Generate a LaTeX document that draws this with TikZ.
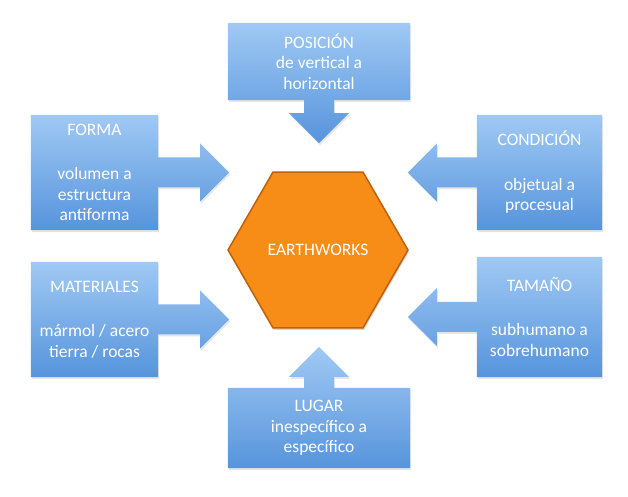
\documentclass[tikz,border=0pt]{standalone}
\usepackage{fontspec}
\setmainfont{Carlito}
\usetikzlibrary{calc,shadows,backgrounds,shapes.geometric}
\definecolor{boxtop}{RGB}{160,201,244}
\definecolor{boxbot}{RGB}{86,148,220}
\definecolor{hexfill}{RGB}{247,140,22}
\definecolor{hexedge}{RGB}{190,98,10}

\begin{document}
\begin{tikzpicture}[x=1pt,y=1pt]
\tikzset{boxtext/.style={text=white,align=center,inner sep=0pt,
font=\fontsize{17.5}{20.5}\selectfont},
callout/.style={top color=boxtop,bottom color=boxbot,
drop shadow={opacity=0.2,shadow xshift=1pt,shadow yshift=-2pt}},
hexa/.style={regular polygon,regular polygon sides=6,minimum size=180pt,
fill=hexfill,draw=hexedge,line width=1.5pt,
drop shadow={opacity=0.3,shadow xshift=1pt,shadow yshift=-2pt}},
}
\useasboundingbox (0,0) rectangle (628,497);

\node[hexa,boxtext] (earth) at (318,247) {EARTHWORKS};

\node[boxtext,minimum width=182pt,minimum height=77pt] (posicion) at (319,435.5)
{POSICIÓN\\de vertical a\\horizontal};
\node[boxtext,minimum width=182pt,minimum height=80pt] (lugar) at (319,69)
{LUGAR\\inespecífico a\\específico};
\node[boxtext,minimum width=127pt,minimum height=115pt] (forma) at (94.5,324.5)
{FORMA\\[24pt]volumen a\\estructura\\antiforma};
\node[boxtext,minimum width=127pt,minimum height=115pt] (materiales) at (94.5,177.5)
{MATERIALES\\[24pt]mármol / acero\\tierra / rocas};
\node[boxtext,minimum width=125pt,minimum height=115pt] (condicion) at (539.5,324.5)
{CONDICIÓN\\[24pt]objetual a\\procesual};
\node[boxtext,minimum width=125pt,minimum height=120pt] (tamano) at (539.5,180)
{TAMAÑO\\[24pt]subhumano a\\sobrehumano};

\begin{scope}[on background layer]
\path[callout] (posicion.north west) -- (posicion.north east) -- (posicion.south east)
-- ($(posicion.south)+(15,0)$) -- ++(0,-13) -- ++(15,0) -- ++(-30,-30)
-- ++(-30,30) -- ++(15,0) -- ++(0,13) -- (posicion.south west) -- cycle;
\path[callout] (lugar.south west) -- (lugar.south east) -- (lugar.north east)
-- ($(lugar.north)+(15,0)$) -- ++(0,11) -- ++(15,0) -- ++(-30,30)
-- ++(-30,-30) -- ++(15,0) -- ++(0,-11) -- (lugar.north west) -- cycle;
\path[callout] (forma.south west) -- (forma.north west) -- (forma.north east)
-- ($(forma.east)+(0,15)$) -- ++(42,0) -- ++(0,14) -- ++(29,-29)
-- ++(-29,-29) -- ++(0,14) -- ++(-42,0) -- (forma.south east) -- cycle;
\path[callout] (materiales.south west) -- (materiales.north west) -- (materiales.north east)
-- ($(materiales.east)+(0,15)$) -- ++(42,0) -- ++(0,14) -- ++(29,-29)
-- ++(-29,-29) -- ++(0,14) -- ++(-42,0) -- (materiales.south east) -- cycle;
\path[callout] (condicion.south east) -- (condicion.north east) -- (condicion.north west)
-- ($(condicion.west)+(0,15)$) -- ++(-40,0) -- ++(0,14) -- ++(-29,-29)
-- ++(29,-29) -- ++(0,14) -- ++(40,0) -- (condicion.south west) -- cycle;
\path[callout] (tamano.south east) -- (tamano.north east) -- (tamano.north west)
-- ($(tamano.west)+(0,15)$) -- ++(-40,0) -- ++(0,14) -- ++(-29,-29)
-- ++(29,-29) -- ++(0,14) -- ++(40,0) -- (tamano.south west) -- cycle;
\end{scope}

\end{tikzpicture}
\end{document}
